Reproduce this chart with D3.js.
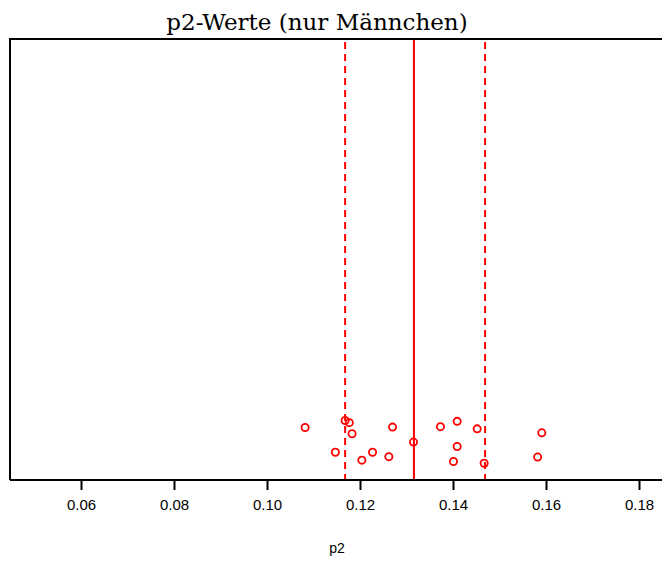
<!DOCTYPE html>
<html>
<head>
<meta charset="utf-8">
<script src="https://cdn.jsdelivr.net/npm/d3@7"></script>
<style>
  html, body { margin: 0; padding: 0; background: #fff; }
  svg { display: block; }
</style>
</head>
<body>
<script>
// Data
const p2Values = [0.1082, 0.1168, 0.1177, 0.1183, 0.1147, 0.1204, 0.1227, 0.1262, 0.1270,
                  0.1315, 0.1373, 0.1409, 0.1452, 0.1591, 0.1409, 0.1401, 0.1467, 0.1582];
const jitterValues = [0.119, 0.135, 0.130, 0.105, 0.063, 0.045, 0.063, 0.053, 0.120,
                      0.086, 0.121, 0.133, 0.116, 0.107, 0.076, 0.042, 0.038, 0.052];
const meanValue = [0.1316];
const intervalValues = [0.1168, 0.1469];
const tickValues = [0.06, 0.08, 0.10, 0.12, 0.14, 0.16, 0.18];
const titleText = "p2-Werte (nur Männchen)";
const xLabel = "p2";

const W = 662, H = 563;
const plot = { left: 10, right: 662, top: 39, bottom: 480 };

const x = d3.scaleLinear().domain([0.06, 0.18]).range([81, 639]);
const y = d3.scaleLinear().domain([0, 1]).range([plot.bottom, plot.top]);

const svg = d3.select("body").append("svg").attr("width", W).attr("height", H);

// Title
svg.append("text")
  .attr("x", 317).attr("y", 30)
  .attr("text-anchor", "middle")
  .attr("font-family", "'DejaVu Serif', 'Liberation Serif', serif")
  .attr("font-size", 23)
  .attr("fill", "#000")
  .text(titleText);

// Reference lines
svg.selectAll("line.interval").data(intervalValues).enter().append("line")
  .attr("class", "interval")
  .attr("x1", d => x(d)).attr("x2", d => x(d))
  .attr("y1", plot.top + 3).attr("y2", plot.bottom)
  .attr("stroke", "#ff0000").attr("stroke-width", 2)
  .attr("stroke-dasharray", "7,5");

svg.selectAll("line.mean").data(meanValue).enter().append("line")
  .attr("class", "mean")
  .attr("x1", d => x(d)).attr("x2", d => x(d))
  .attr("y1", plot.top).attr("y2", plot.bottom)
  .attr("stroke", "#ff0000").attr("stroke-width", 2);

// Points
svg.selectAll("circle.pt").data(p2Values).enter().append("circle")
  .attr("class", "pt")
  .attr("cx", d => x(d))
  .attr("cy", (d, i) => y(jitterValues[i]))
  .attr("r", 3.6)
  .attr("fill", "none")
  .attr("stroke", "#ff0000")
  .attr("stroke-width", 1.8);

// Frame: top and left
svg.append("path")
  .attr("d", `M${plot.left},${plot.bottom}V${plot.top}H${plot.right}`)
  .attr("fill", "none").attr("stroke", "#000").attr("stroke-width", 2);

// X axis
const axis = d3.axisBottom(x).tickValues(tickValues).tickSize(10).tickPadding(9)
  .tickFormat(d3.format(".2f")).tickSizeOuter(0);
const gx = svg.append("g").attr("transform", `translate(0,${plot.bottom})`).call(axis);
gx.select(".domain").attr("d", `M${plot.left},0H${plot.right}`)
  .attr("stroke", "#000").attr("stroke-width", 2);
gx.selectAll(".tick line").attr("stroke", "#000").attr("stroke-width", 2);
gx.selectAll(".tick text")
  .attr("font-family", "'Liberation Sans', Arial, sans-serif")
  .attr("font-size", 15).attr("fill", "#000");

// X label
svg.append("text")
  .attr("x", 337).attr("y", 553)
  .attr("text-anchor", "middle")
  .attr("font-family", "'Liberation Sans', Arial, sans-serif")
  .attr("font-size", 14)
  .attr("fill", "#000")
  .text(xLabel);
</script>
</body>
</html>
